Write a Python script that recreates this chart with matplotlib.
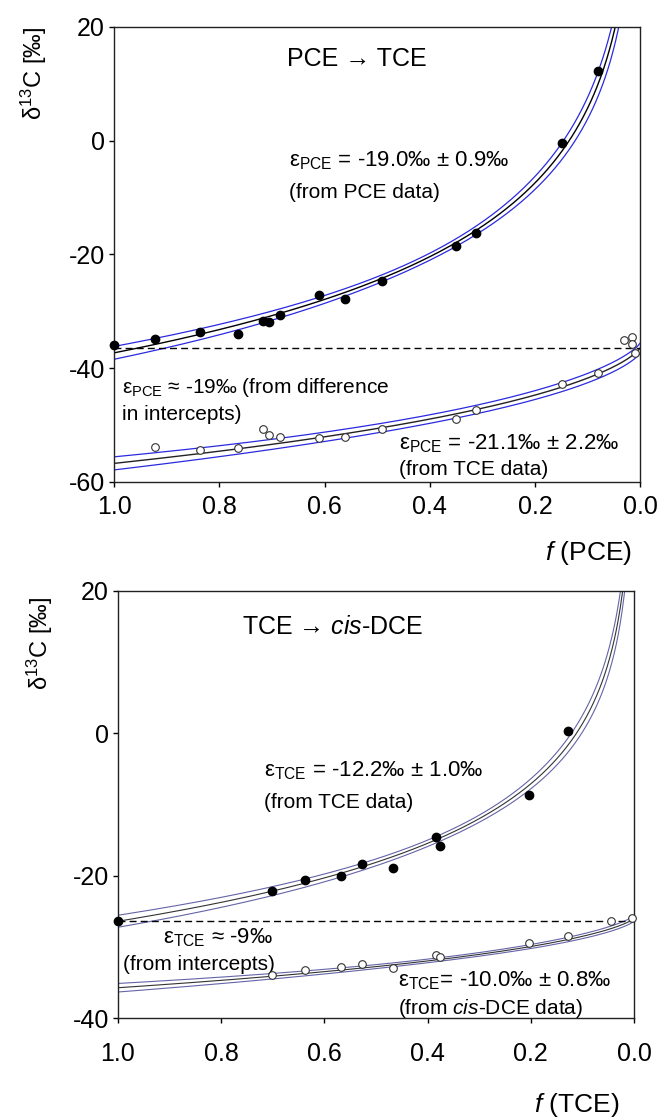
import numpy as np
import matplotlib
matplotlib.use('Agg')
from matplotlib import pyplot

pyplot.rcParams['font.family'] = ['Liberation Sans', 'DejaVu Sans']
pyplot.rcParams['mathtext.fontset'] = 'custom'
pyplot.rcParams['mathtext.rm'] = 'Liberation Sans'
pyplot.rcParams['mathtext.it'] = 'Liberation Sans:italic'
pyplot.rcParams['axes.unicode_minus'] = False


# ---- data ----
# PCE -> TCE panel
pceF     = [1.00, 0.922, 0.837, 0.765, 0.717, 0.705, 0.685, 0.611, 0.561, 0.491, 0.350, 0.312, 0.148, 0.080]
pceDelta = [-36.0, -34.9, -33.7, -34.0, -31.7, -31.8, -30.6, -27.2, -27.8, -24.6, -18.5, -16.3, -0.4, 12.2]

tceProdF     = [0.922, 0.837, 0.765, 0.717, 0.705, 0.685, 0.610, 0.561, 0.491, 0.350, 0.312, 0.148, 0.080, 0.031, 0.015, 0.015, 0.010]
tceProdDelta = [-53.9, -54.3, -54.0, -50.6, -51.8, -52.1, -52.3, -52.1, -50.6, -49.0, -47.3, -42.7, -40.9, -35.0, -34.6, -35.7, -37.3]

# TCE -> cis-DCE panel
tceF     = [1.00, 0.701, 0.637, 0.568, 0.527, 0.467, 0.384, 0.375, 0.203, 0.127]
tceDelta = [-26.4, -22.2, -20.6, -20.1, -18.4, -18.9, -14.6, -15.8, -8.6, 0.3]

dceF     = [0.701, 0.637, 0.568, 0.527, 0.467, 0.384, 0.375, 0.203, 0.127, 0.044, 0.004]
dceDelta = [-34.0, -33.3, -32.8, -32.4, -32.9, -31.2, -31.4, -29.5, -28.5, -26.3, -26.0]

# fit parameters (epsilon from the labels, start values)
pceEps, pceStart       = -19.0, -37.3
tceProdEps, tceProdEnd = -21.1, -36.4
tceEps, tceStart       = -12.2, -26.4
dceEps, dceEnd         = -10.0, -26.0

# confidence band (min half width, slope, centre)
pceBand     = (0.6, 1.2, np.log(0.45))
tceProdBand = (0.75, 1.34, 0.35)
tceBand     = (0.45, 0.78, np.log(0.40))
dceBand     = (0.25, 0.84, 0.35)

pceLevel = -36.4
tceLevel = -26.3


def rayleigh(f, start, eps):
    return (start + 1000) * f ** (eps / 1000) - 1000

def product(f, end, eps):
    a = 1 + eps / 1000
    return (end + 1000) * (1 - f ** a) / (1 - f) - 1000

def band(x, params):
    w0, k, c = params
    return np.sqrt(w0 ** 2 + k ** 2 * (x - c) ** 2)


fig = pyplot.figure(figsize=(6.67, 11.18), dpi=100)
axTop = fig.add_axes([0.171, 0.5689, 0.789, 0.407])
axBot = fig.add_axes([0.1769, 0.0894, 0.7736, 0.382])

fs = np.linspace(0.0005, 0.9999, 800)


def style_axes(ax, yticks, xpad):
    ax.set_xlim(1.0, 0.0)
    ax.set_ylim(yticks[-1], yticks[0])
    ax.set_yticks(yticks)
    ax.set_yticklabels([str(t) for t in yticks])
    ax.set_xticks([1.0, 0.8, 0.6, 0.4, 0.2, 0.0])
    ax.set_xticklabels(['1.0', '0.8', '0.6', '0.4', '0.2', '0.0'])
    ax.tick_params(direction='out', length=3.6, width=1, labelsize=18, top=False, right=False)
    ax.tick_params(axis='y', pad=3)
    ax.tick_params(axis='x', pad=xpad)
    for s in ax.spines.values():
        s.set_linewidth(1.0)
        s.set_color('#222222')


ann = 15    # annotation font size
epsFs = 16  # epsilon lines

# ---- top panel ----
ax = axTop
curve = rayleigh(fs, pceStart, pceEps)
w = band(np.log(fs), pceBand)
ax.plot(fs, curve + w, color='#2a2ae0', lw=0.9)
ax.plot(fs, curve - w, color='#2a2ae0', lw=0.9)
ax.plot(fs, curve, color='black', lw=1.0)

curve = product(fs, tceProdEnd, tceProdEps)
w = band(fs, tceProdBand)
ax.plot(fs, curve + w, color='#2a2ae0', lw=0.9)
ax.plot(fs, curve - w, color='#2a2ae0', lw=0.9)
ax.plot(fs, curve, color='#222222', lw=1.0)

ax.plot([1.0, 0.0], [pceLevel, pceLevel], color='black', lw=1.0, linestyle=(0, (5, 3)))

ax.plot(pceF, pceDelta, 'o', color='black', markersize=6, clip_on=False, zorder=5)
ax.plot(tceProdF, tceProdDelta, 'o', markerfacecolor='white', markeredgecolor='#333333',
        markeredgewidth=0.8, markersize=5.5, clip_on=False, zorder=5)

style_axes(ax, [20, 0, -20, -40, -60], 6)

ax.text(0.671, 14.4, 'PCE → TCE', fontsize=18, va='center', ha='left')
ax.text(0.667, -4.5, 'ε$_{\\mathrm{PCE}}$ = -19.0‰ ± 0.9‰', fontsize=epsFs)
ax.text(0.667, -10.1, '(from PCE data)', fontsize=ann)
ax.text(0.984, -44.3, 'ε$_{\\mathrm{PCE}}$ ≈ -19‰ (from difference', fontsize=ann)
ax.text(0.984, -49.1, 'in intercepts)', fontsize=ann)
ax.text(0.459, -54.3, 'ε$_{\\mathrm{PCE}}$ = -21.1‰ ± 2.2‰', fontsize=epsFs)
ax.text(0.459, -58.7, '(from TCE data)', fontsize=ann)

# ---- bottom panel ----
ax = axBot
curve = rayleigh(fs, tceStart, tceEps)
w = band(np.log(fs), tceBand)
ax.plot(fs, curve + w, color='#6464a8', lw=0.8)
ax.plot(fs, curve - w, color='#6464a8', lw=0.8)
ax.plot(fs, curve, color='#333333', lw=0.8)

curve = product(fs, dceEnd, dceEps)
w = band(fs, dceBand)
ax.plot(fs, curve + w, color='#6464a8', lw=0.8)
ax.plot(fs, curve - w, color='#6464a8', lw=0.8)
ax.plot(fs, curve, color='#333333', lw=0.8)

ax.plot([1.0, 0.0], [tceLevel, tceLevel], color='black', lw=1.0, linestyle=(0, (5, 3)))

ax.plot(tceF, tceDelta, 'o', color='black', markersize=6, clip_on=False, zorder=5)
ax.plot(dceF, dceDelta, 'o', markerfacecolor='white', markeredgecolor='#333333',
        markeredgewidth=0.8, markersize=5.5, clip_on=False, zorder=5)

style_axes(ax, [20, 0, -20, -40], 14)

ax.text(0.759, 14.9, 'TCE → $cis$-DCE', fontsize=18, va='center', ha='left')
ax.text(0.718, -6.0, 'ε$_{\\mathrm{TCE}}$ = -12.2‰ ± 1.0‰', fontsize=epsFs)
ax.text(0.718, -10.5, '(from TCE data)', fontsize=ann)
ax.text(0.913, -29.5, 'ε$_{\\mathrm{TCE}}$ ≈ -9‰', fontsize=epsFs)
ax.text(0.990, -33.3, '(from intercepts)', fontsize=ann)
ax.text(0.458, -35.6, 'ε$_{\\mathrm{TCE}}$= -10.0‰ ± 0.8‰', fontsize=epsFs)
ax.text(0.458, -39.4, '(from $cis$-DCE data)', fontsize=ann)

# axis labels
fig.text(632 / 667, 1 - 553 / 1118, '$f$ (PCE)', fontsize=19, ha='right', va='center')
fig.text(619 / 667, 1 - 1105 / 1118, '$f$ (TCE)', fontsize=19, ha='right', va='center')
fig.text(34 / 667, 1 - 73 / 1118, 'δ$^{13}$C [‰]', fontsize=17, rotation=90, ha='center', va='center')
fig.text(40 / 667, 1 - 643 / 1118, 'δ$^{13}$C [‰]', fontsize=17, rotation=90, ha='center', va='center')

fig.savefig('out.png', dpi=100)
